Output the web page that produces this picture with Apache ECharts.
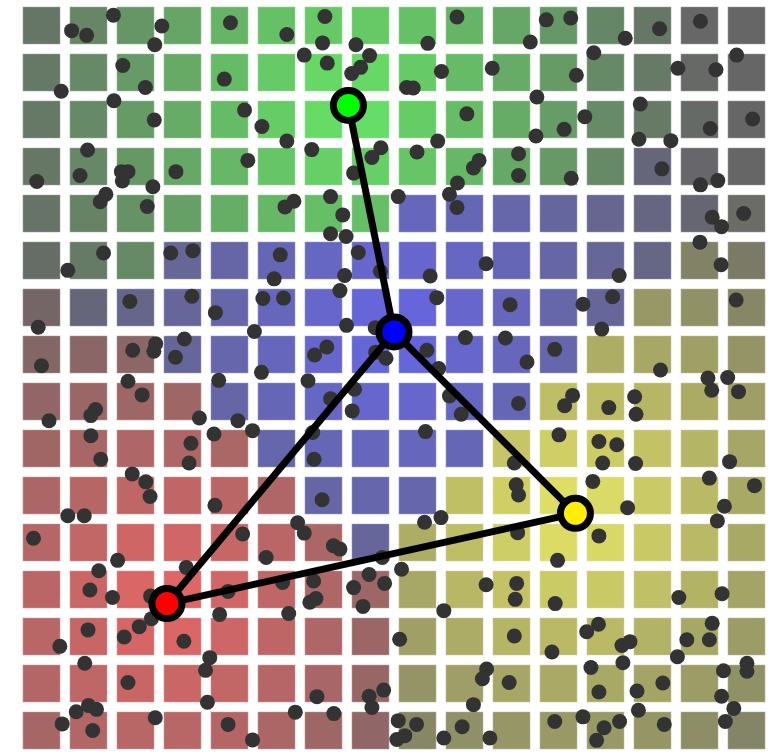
<!DOCTYPE html>
<html>
<head>
<meta charset="utf-8">
<script src="https://cdn.jsdelivr.net/npm/echarts@6/dist/echarts.min.js"></script>
<style>
  html, body { margin: 0; padding: 0; background: #fff; }
  #main { width: 773px; height: 756px; }
</style>
</head>
<body>
<div id="main"></div>
<script>
// grid is 16 x 16 cells, value space 0..16 on both axes (y runs downwards)
const gridSize = 16;

// the four large points: key, colour, position
const centerKeys = ["g", "b", "y", "r"];
const centerNames = ["green", "blue", "yellow", "red"];
const centerColors = ["#00ff00", "#0000ff", "#ffee00", "#ff0000"];
const centerRgb = [[0, 1, 0], [0, 0, 1], [1, 1, 0], [1, 0, 0]];
const centerX = [7.03, 8.0, 11.86, 3.17];
const centerY = [2.2, 7.02, 10.88, 12.8];

// which big point each cell belongs to, row by row
const cellRegions = [
  "gggggggggggggggg",
  "gggggggggggggggg",
  "gggggggggggggggg",
  "gggggggggggggbbb",
  "ggggggggbbbbbbby",
  "gggbbbbbbbbbbbyy",
  "rbbbbbbbbbbbbyyy",
  "rrrbbbbbbbbbyyyy",
  "rrrrbbbbbbbyyyyy",
  "rrrrrbbbbbyyyyyy",
  "rrrrrrbbbyyyyyyy",
  "rrrrrrrbyyyyyyyy",
  "rrrrrrrryyyyyyyy",
  "rrrrrrrryyyyyyyy",
  "rrrrrrrryyyyyyyy",
  "rrrrrrrryyyyyyyy",
];

// links between the large points (index pairs)
const links = [[0, 1], [1, 3], [1, 2], [3, 2]];

// small dark points
const dotsTop = [
  [2.03,0.28],[1.14,0.61],[1.46,0.71],[3.06,0.51],[2.91,0.91],[4.52,0.44],[2.23,1.35],[0.92,1.90],
  [2.71,1.82],[2.04,2.10],[4.39,1.64],[2.90,2.51],[4.82,2.30],[1.48,3.15],[1.32,3.69],[0.40,3.82],
  [2.20,3.61],[2.34,3.61],[2.22,3.81],[3.36,3.61],[2.87,3.93],[1.87,4.09],[1.75,4.25],[2.75,4.35],
  [4.89,3.37],
  [6.53,0.31],[5.72,0.69],[6.48,0.87],[7.19,0.91],[6.09,1.13],[6.58,1.30],[7.48,1.14],[7.29,1.39],
  [7.10,1.52],[8.72,0.88],[9.34,0.32],[9.01,1.48],[10.09,1.41],[8.27,1.82],[8.41,1.83],[5.19,2.65],
  [5.72,2.96],[6.25,3.14],[7.72,3.10],[7.53,3.31],[7.14,3.64],[8.49,3.19],[8.93,2.96],[9.55,2.38],
  [9.81,3.37],[9.69,3.53],[9.35,3.85],[9.18,4.09],[9.34,4.37],[5.87,4.24],[5.68,4.36],[6.65,4.14],
  [6.91,4.53],[6.65,4.93],[6.98,4.99],[8.09,4.14],
  [11.24,0.38],[11.76,0.34],[10.90,0.85],[12.92,0.77],[13.65,0.57],[14.52,0.41],[12.25,1.08],
  [11.88,1.56],[14.04,1.41],[14.85,1.44],[15.29,1.13],[11.04,2.02],[13.24,2.17],[12.06,2.44],
  [11.62,2.71],[11.02,2.85],[13.21,2.92],[13.89,2.95],[14.73,2.69],[15.63,2.49],[10.65,3.23],
  [10.65,3.69],[11.77,3.75],[13.70,3.55],[14.52,3.89],[14.89,3.80],[14.77,4.58],[14.97,4.78],
  [15.44,4.50],[14.51,5.11]
];
const dotsMiddle = [
  [1.82,5.34],[3.25,5.34],[3.72,5.29],[1.06,5.71],[2.38,6.37],[3.70,6.26],[4.20,6.61],[0.43,6.92],
  [5.03,7.01],[2.44,7.41],[2.93,7.27],[2.89,7.43],[3.54,7.17],[3.35,7.56],[0.50,7.74],[2.34,8.07],
  [2.64,8.36],[4.27,8.05],[0.66,8.91],[1.65,8.67],[1.55,8.80],[1.55,9.23],[1.76,9.73],[3.86,8.85],
  [4.17,9.19],[4.68,8.91],[4.99,9.12],[3.68,9.39],[3.64,9.81],[2.43,10.04],[2.72,10.21],[2.81,10.52],
  [5.58,5.38],[7.24,5.33],[5.45,5.89],[5.21,6.31],[5.65,6.30],[6.95,5.82],[6.85,6.14],[7.71,5.73],
  [8.77,5.83],[8.91,6.29],[9.96,5.57],[10.47,6.44],[6.99,6.88],[7.60,6.93],[6.57,7.34],[6.31,7.51],
  [7.61,7.45],[7.83,7.58],[8.70,7.41],[8.95,7.80],[9.52,7.14],[10.37,7.15],[5.18,7.88],[6.17,8.06],
  [6.65,8.44],[7.16,8.24],[7.11,8.70],[9.18,8.38],[9.43,8.77],[6.27,9.16],[8.67,9.14],[6.30,9.73],
  [6.47,10.59],
  [14.96,5.59],[12.79,5.82],[12.65,6.27],[12.02,6.43],[15.28,6.34],[12.42,6.96],[11.42,7.39],
  [10.83,7.66],[13.67,7.83],[14.68,8.00],[15.10,7.99],[14.76,8.26],[15.33,8.29],[11.80,8.37],
  [11.63,8.59],[12.57,8.63],[13.12,8.40],[13.15,8.77],[10.65,8.54],[11.51,9.21],[12.36,9.35],
  [12.74,9.42],[12.44,9.81],[13.14,9.82],[15.14,9.78],[14.71,10.13],[15.67,10.29],[12.23,10.20],
  [10.56,9.81],[10.60,10.27],[10.65,10.49]
];
const dotsBottom = [
  [4.19,10.71],[1.06,10.93],[1.41,10.93],[0.33,11.41],[4.78,11.32],[2.12,11.88],[1.72,12.10],
  [3.58,12.03],[1.53,12.51],[2.01,12.67],[2.82,12.64],[4.47,12.54],[2.84,13.12],[2.58,13.29],
  [2.26,13.51],[4.29,13.03],[1.49,13.36],[0.89,13.71],[3.53,13.60],[1.42,14.07],[4.08,13.95],
  [3.99,14.22],[2.34,14.48],[4.03,14.90],[1.24,15.10],[1.50,14.97],[1.67,15.05],[0.94,15.36],
  [1.59,15.50],[2.92,15.23],[4.47,15.37],[4.99,15.70],
  [5.95,11.08],[6.09,11.30],[5.28,11.82],[6.71,11.57],[6.85,11.64],[8.65,11.07],[9.00,10.97],
  [7.75,11.82],[8.16,12.07],[7.47,12.18],[7.80,12.37],[7.14,12.46],[7.34,12.86],[6.29,12.32],
  [5.63,12.35],[6.34,12.69],[6.21,12.77],[5.76,13.01],[9.96,12.40],[9.06,12.95],[8.12,13.56],
  [9.97,14.19],[9.88,14.40],[10.45,14.48],[7.78,14.64],[7.47,14.77],[7.53,15.01],[6.36,14.78],
  [5.90,15.11],[6.72,15.14],[9.69,14.95],[9.45,15.42],[8.48,15.37],[8.09,15.29],[8.06,15.69],
  [8.23,15.61],[9.06,15.66],[10.04,15.66],
  [12.97,10.76],[15.03,10.73],[14.88,11.04],[10.63,11.29],[12.36,11.36],[11.48,11.88],[10.61,12.37],
  [10.58,12.71],[11.43,12.80],[14.06,12.67],[14.98,12.59],[10.56,13.49],[12.35,13.24],[12.10,13.40],
  [13.02,13.61],[12.85,13.69],[11.36,13.83],[12.87,14.06],[12.19,14.16],[14.23,13.57],[14.77,13.22],
  [14.71,13.57],[14.03,13.93],[15.51,14.07],[15.51,14.24],[15.01,14.23],[12.36,14.68],[13.17,14.66],
  [13.72,14.49],[14.97,14.77],[15.23,15.03],[13.20,15.07],[15.05,15.31],[11.42,15.31],[12.02,15.21],
  [12.47,15.44],[12.80,15.31],[12.31,15.71],[13.75,15.37]
];

// cell colour: hue of its big point, fading to grey with distance
function cellColor(i, j) {
  const k = centerKeys.indexOf(cellRegions[j][i]);
  const d = Math.hypot(i + 0.5 - centerX[k], j + 0.5 - centerY[k]);
  const t = 0.84 * Math.max(0, 1 - d / 7.7);
  const rgb = centerRgb[k].map((c) => Math.round(102 + 153 * t * c));
  return `rgb(${rgb[0]},${rgb[1]},${rgb[2]})`;
}

const cells = [];
for (let j = 0; j < gridSize; j++) {
  for (let i = 0; i < gridSize; i++) {
    cells.push([i, j]);
  }
}

const centers = centerX.map((x, k) => ({
  name: centerNames[k],
  value: [x, centerY[k]],
  itemStyle: { color: centerColors[k] },
}));

const linkData = links.map(([a, b]) => ({
  coords: [
    [centerX[a], centerY[a]],
    [centerX[b], centerY[b]],
  ],
}));

const chart = echarts.init(document.getElementById("main"));
chart.setOption({
  animation: false,
  grid: { left: 18, right: 3, top: 2, bottom: 2 },
  xAxis: { type: "value", min: 0, max: gridSize, show: false },
  yAxis: { type: "value", min: 0, max: gridSize, inverse: true, show: false },
  series: [
    {
      type: "custom",
      z: 1,
      silent: true,
      data: cells,
      renderItem: (params, api) => {
        const i = api.value(0);
        const j = api.value(1);
        const p0 = api.coord([i + 0.1, j + 0.1]);
        const p1 = api.coord([i + 0.9, j + 0.9]);
        return {
          type: "rect",
          shape: { x: p0[0], y: p0[1], width: p1[0] - p0[0], height: p1[1] - p0[1] },
          style: { fill: cellColor(i, j), stroke: "rgba(255,255,255,0.45)", lineWidth: 1 },
        };
      },
    },
    {
      type: "scatter",
      z: 2,
      symbolSize: 15,
      itemStyle: { color: "#333", opacity: 1 },
      data: [...dotsTop, ...dotsMiddle, ...dotsBottom],
    },
    {
      type: "lines",
      coordinateSystem: "cartesian2d",
      z: 3,
      lineStyle: { color: "#000", width: 7, opacity: 1 },
      data: linkData,
    },
    {
      type: "scatter",
      z: 4,
      symbolSize: 30,
      itemStyle: { borderColor: "#000", borderWidth: 7, opacity: 1 },
      data: centers,
    },
  ],
});
</script>
</body>
</html>
